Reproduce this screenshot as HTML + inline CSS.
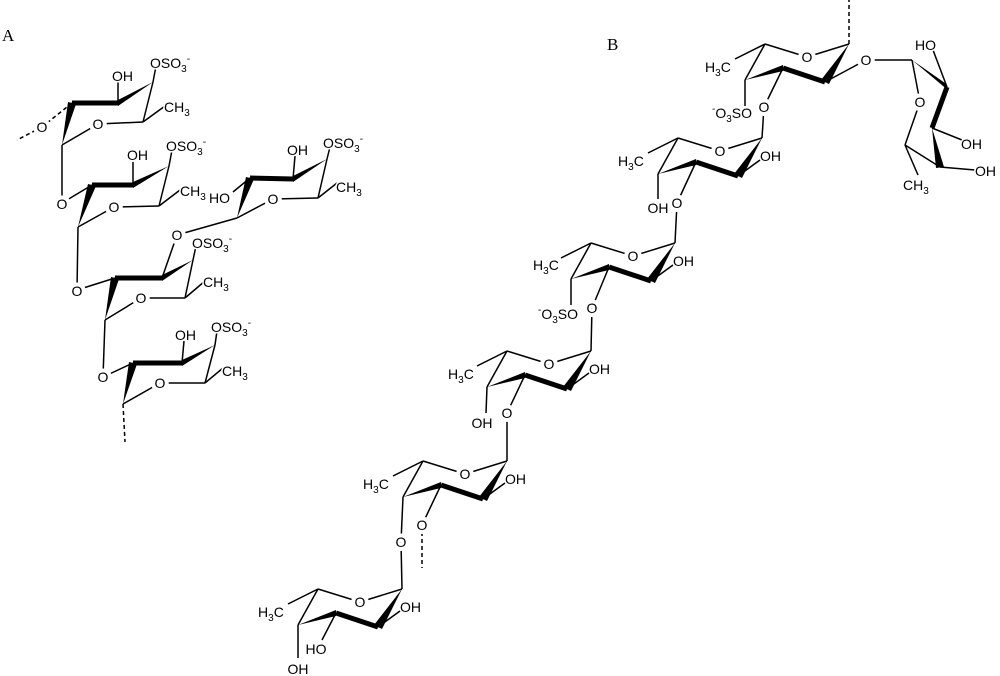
<!DOCTYPE html>
<html><head><meta charset="utf-8"><style>
html,body{margin:0;padding:0;background:#fff;}
svg{display:block}
text{font-family:"Liberation Sans",Arial,sans-serif;font-size:14px;fill:#000;stroke:#fff;stroke-width:3px;paint-order:stroke;stroke-linejoin:round}
text.o{stroke-width:8px}
text tspan.s{font-size:10px}
.ser{font-family:"Liberation Serif",serif;font-size:17px;stroke:none}
line{stroke:#000;stroke-width:1.5}
.th{stroke-width:5}
.d{stroke-dasharray:4,3}
polygon{fill:#000}
</style></head><body>
<svg width="1000" height="676" viewBox="0 0 1000 676" xmlns="http://www.w3.org/2000/svg">
<text class="ser" x="2" y="41">A</text>
<text class="ser" x="607" y="50">B</text>

<!-- ===== Panel A ===== -->
<g>
<polygon points="62,145 68,102 76,104"/>
<line class="th" x1="72" y1="103" x2="118" y2="103"/>
<polygon points="118,100 118,106 153,82"/>
<line x1="153" y1="82" x2="143" y2="122"/>
<line x1="143" y1="122" x2="98" y2="124"/>
<line x1="98" y1="124" x2="62" y2="145"/>
<line x1="118" y1="103" x2="118" y2="80"/>
<line x1="153" y1="82" x2="156" y2="66"/>
<line x1="143" y1="122" x2="165" y2="106"/>
<line class="d" x1="72" y1="103" x2="42" y2="127"/>
<line class="d" x1="42" y1="127" x2="17" y2="140"/>
<line x1="62" y1="145" x2="62" y2="203"/>
<line x1="62" y1="203" x2="92" y2="185"/>
<text class="o" x="98" y="129" text-anchor="middle">O</text>
<text class="o" x="42" y="132" text-anchor="middle">O</text>
<text x="112" y="81">OH</text>
<text x="150" y="68">OSO<tspan class="s" dy="4">3</tspan><tspan class="s" dy="-10">-</tspan></text>
<text x="164" y="112">CH<tspan class="s" dy="4">3</tspan></text>
<text class="o" x="62" y="209" text-anchor="middle">O</text>
</g>
<g>
<polygon points="78,227 88,184 96,186"/>
<line class="th" x1="92" y1="185" x2="133" y2="185"/>
<polygon points="133,182 133,188 169,166"/>
<line x1="169" y1="166" x2="159" y2="206"/>
<line x1="159" y1="206" x2="114" y2="207"/>
<line x1="114" y1="207" x2="78" y2="227"/>
<line x1="133" y1="185" x2="133" y2="162"/>
<line x1="169" y1="166" x2="172" y2="150"/>
<line x1="159" y1="206" x2="180" y2="190"/>
<line x1="78" y1="227" x2="77" y2="290"/>
<line x1="77" y1="290" x2="115" y2="278"/>
<text class="o" x="114" y="212" text-anchor="middle">O</text>
<text x="127" y="160">OH</text>
<text x="166" y="151">OSO<tspan class="s" dy="4">3</tspan><tspan class="s" dy="-10">-</tspan></text>
<text x="180" y="196">CH<tspan class="s" dy="4">3</tspan></text>
<text class="o" x="77" y="296" text-anchor="middle">O</text>
</g>
<g>
<polygon points="105,320 111,277 119,279"/>
<line class="th" x1="115" y1="278" x2="162" y2="278"/>
<polygon points="162,275 162,281 193,260"/>
<line x1="193" y1="260" x2="185" y2="298"/>
<line x1="185" y1="298" x2="141" y2="298"/>
<line x1="141" y1="298" x2="105" y2="320"/>
<line x1="162" y1="278" x2="177" y2="235"/>
<line x1="177" y1="235" x2="237" y2="218"/>
<line x1="193" y1="260" x2="196" y2="246"/>
<line x1="185" y1="298" x2="205" y2="281"/>
<line x1="105" y1="320" x2="103" y2="377"/>
<line x1="103" y1="377" x2="133" y2="363"/>
<text class="o" x="141" y="303" text-anchor="middle">O</text>
<text class="o" x="177" y="240" text-anchor="middle">O</text>
<text x="192" y="248">OSO<tspan class="s" dy="4">3</tspan><tspan class="s" dy="-10">-</tspan></text>
<text x="203" y="287">CH<tspan class="s" dy="4">3</tspan></text>
<text class="o" x="103" y="382" text-anchor="middle">O</text>
</g>
<g>
<polygon points="123,404 129,362 137,364"/>
<line class="th" x1="133" y1="363" x2="182" y2="363"/>
<polygon points="182,360 182,366 215,345"/>
<line x1="215" y1="345" x2="205" y2="383"/>
<line x1="205" y1="383" x2="160" y2="383"/>
<line x1="160" y1="383" x2="123" y2="404"/>
<line x1="182" y1="363" x2="184" y2="341"/>
<line x1="215" y1="345" x2="217" y2="331"/>
<line x1="205" y1="383" x2="223" y2="368"/>
<line class="d" x1="123" y1="404" x2="125" y2="442"/>
<text class="o" x="160" y="388" text-anchor="middle">O</text>
<text x="175" y="340">OH</text>
<text x="211" y="332">OSO<tspan class="s" dy="4">3</tspan><tspan class="s" dy="-10">-</tspan></text>
<text x="222" y="376">CH<tspan class="s" dy="4">3</tspan></text>
</g>
<g>
<polygon points="237,218 246,177 254,179"/>
<line class="th" x1="250" y1="178" x2="293" y2="179"/>
<polygon points="293,176 293,182 327,159"/>
<line x1="327" y1="159" x2="318" y2="198"/>
<line x1="318" y1="198" x2="273" y2="199"/>
<line x1="273" y1="199" x2="237" y2="218"/>
<line x1="250" y1="178" x2="233" y2="192"/>
<line x1="293" y1="179" x2="295" y2="156"/>
<line x1="327" y1="159" x2="330" y2="147"/>
<line x1="318" y1="198" x2="337" y2="183"/>
<text class="o" x="273" y="204" text-anchor="middle">O</text>
<text x="209" y="203">HO</text>
<text x="287" y="155">OH</text>
<text x="323" y="148">OSO<tspan class="s" dy="4">3</tspan><tspan class="s" dy="-10">-</tspan></text>
<text x="336" y="192">CH<tspan class="s" dy="4">3</tspan></text>
</g>

<!-- ===== Panel B ===== -->
<g>
<line x1="765" y1="44" x2="807" y2="57"/>
<line x1="807" y1="57" x2="849" y2="44"/>
<polygon points="849,44 821,80 829,84"/>
<line class="th" x1="825" y1="82" x2="783" y2="68"/>
<polygon points="745,80 783,65 783,71"/>
<line x1="745" y1="80" x2="765" y2="44"/>
<line x1="765" y1="44" x2="735" y2="59"/>
<line x1="745" y1="80" x2="745" y2="106"/>
<line x1="783" y1="68" x2="764" y2="107"/>
<line x1="764" y1="107" x2="762" y2="138"/>
<line x1="825" y1="82" x2="866" y2="60"/>
<line x1="866" y1="60" x2="912" y2="60"/>
<line class="d" x1="849" y1="44" x2="849" y2="0"/>
<text class="o" x="807" y="62" text-anchor="middle">O</text>
<text class="o" x="866" y="65" text-anchor="middle">O</text>
<text class="o" x="764" y="112" text-anchor="middle">O</text>
<text x="705" y="72">H<tspan class="s" dy="4">3</tspan><tspan dy="-4">C</tspan></text>
<text x="752" y="118" text-anchor="end"><tspan class="s" dy="-6">-</tspan><tspan dy="6">O</tspan><tspan class="s" dy="4">3</tspan><tspan dy="-4">SO</tspan></text>
</g>
<g>
<line x1="678" y1="138" x2="720" y2="151"/>
<line x1="720" y1="151" x2="762" y2="138"/>
<polygon points="762,138 734,174 742,178"/>
<line class="th" x1="738" y1="176" x2="696" y2="162"/>
<polygon points="658,174 696,159 696,165"/>
<line x1="658" y1="174" x2="678" y2="138"/>
<line x1="678" y1="138" x2="648" y2="153"/>
<line x1="658" y1="174" x2="658" y2="199"/>
<line x1="738" y1="176" x2="760" y2="160"/>
<line x1="696" y1="162" x2="677" y2="203"/>
<line x1="677" y1="203" x2="675" y2="243"/>
<text class="o" x="720" y="156" text-anchor="middle">O</text>
<text class="o" x="677" y="208" text-anchor="middle">O</text>
<text x="760" y="161">OH</text>
<text x="658" y="213" text-anchor="middle">OH</text>
<text x="618" y="166">H<tspan class="s" dy="4">3</tspan><tspan dy="-4">C</tspan></text>
</g>
<g>
<line x1="591" y1="243" x2="633" y2="256"/>
<line x1="633" y1="256" x2="675" y2="243"/>
<polygon points="675,243 647,279 655,283"/>
<line class="th" x1="651" y1="281" x2="609" y2="267"/>
<polygon points="571,279 609,264 609,270"/>
<line x1="571" y1="279" x2="591" y2="243"/>
<line x1="591" y1="243" x2="561" y2="258"/>
<line x1="571" y1="279" x2="571" y2="305"/>
<line x1="651" y1="281" x2="673" y2="265"/>
<line x1="609" y1="267" x2="592" y2="308"/>
<line x1="592" y1="308" x2="591" y2="351"/>
<text class="o" x="633" y="261" text-anchor="middle">O</text>
<text class="o" x="592" y="313" text-anchor="middle">O</text>
<text x="673" y="266">OH</text>
<text x="533" y="270">H<tspan class="s" dy="4">3</tspan><tspan dy="-4">C</tspan></text>
<text x="578" y="319" text-anchor="end"><tspan class="s" dy="-6">-</tspan><tspan dy="6">O</tspan><tspan class="s" dy="4">3</tspan><tspan dy="-4">SO</tspan></text>
</g>
<g>
<line x1="507" y1="351" x2="549" y2="364"/>
<line x1="549" y1="364" x2="591" y2="351"/>
<polygon points="591,351 563,387 571,391"/>
<line class="th" x1="567" y1="389" x2="525" y2="375"/>
<polygon points="487,387 525,372 525,378"/>
<line x1="487" y1="387" x2="507" y2="351"/>
<line x1="507" y1="351" x2="477" y2="366"/>
<line x1="487" y1="387" x2="486" y2="413"/>
<line x1="567" y1="389" x2="589" y2="373"/>
<line x1="525" y1="375" x2="507" y2="413"/>
<line x1="507" y1="413" x2="507" y2="461"/>
<text class="o" x="549" y="369" text-anchor="middle">O</text>
<text class="o" x="507" y="418" text-anchor="middle">O</text>
<text x="589" y="374">OH</text>
<text x="482" y="428" text-anchor="middle">OH</text>
<text x="448" y="379">H<tspan class="s" dy="4">3</tspan><tspan dy="-4">C</tspan></text>
</g>
<g>
<line x1="423" y1="461" x2="465" y2="474"/>
<line x1="465" y1="474" x2="507" y2="461"/>
<polygon points="507,461 479,497 487,501"/>
<line class="th" x1="483" y1="499" x2="441" y2="485"/>
<polygon points="403,497 441,482 441,488"/>
<line x1="403" y1="497" x2="423" y2="461"/>
<line x1="423" y1="461" x2="393" y2="476"/>
<line x1="403" y1="497" x2="401" y2="542"/>
<line x1="401" y1="542" x2="402" y2="589"/>
<line x1="483" y1="499" x2="505" y2="483"/>
<line x1="441" y1="485" x2="422" y2="525"/>
<line class="d" x1="422" y1="525" x2="422" y2="568"/>
<text class="o" x="465" y="479" text-anchor="middle">O</text>
<text class="o" x="422" y="530" text-anchor="middle">O</text>
<text class="o" x="401" y="547" text-anchor="middle">O</text>
<text x="505" y="484">OH</text>
<text x="363" y="489">H<tspan class="s" dy="4">3</tspan><tspan dy="-4">C</tspan></text>
</g>
<g>
<line x1="318" y1="589" x2="360" y2="602"/>
<line x1="360" y1="602" x2="402" y2="589"/>
<polygon points="402,589 374,625 382,629"/>
<line class="th" x1="378" y1="627" x2="336" y2="613"/>
<polygon points="298,625 336,610 336,616"/>
<line x1="298" y1="625" x2="318" y2="589"/>
<line x1="318" y1="589" x2="288" y2="604"/>
<line x1="298" y1="625" x2="298" y2="658"/>
<line x1="336" y1="613" x2="322" y2="640"/>
<line x1="378" y1="627" x2="400" y2="611"/>
<text class="o" x="360" y="607" text-anchor="middle">O</text>
<text x="400" y="612">OH</text>
<text x="258" y="617">H<tspan class="s" dy="4">3</tspan><tspan dy="-4">C</tspan></text>
<text x="316" y="654" text-anchor="middle">HO</text>
<text x="298" y="674" text-anchor="middle">OH</text>
</g>
<g>
<polygon points="912,60 945,83 949,91"/>
<line class="th" x1="947" y1="87" x2="932" y2="128"/>
<polygon points="932,128 936,168 944,167"/>
<line x1="940" y1="167" x2="905" y2="145"/>
<line x1="905" y1="145" x2="920" y2="102"/>
<line x1="920" y1="102" x2="912" y2="60"/>
<line x1="947" y1="87" x2="933" y2="50"/>
<line x1="932" y1="128" x2="962" y2="140"/>
<line x1="940" y1="167" x2="975" y2="170"/>
<line x1="905" y1="145" x2="918" y2="175"/>
<text class="o" x="920" y="107" text-anchor="middle">O</text>
<text x="915" y="50">HO</text>
<text x="961" y="149">OH</text>
<text x="975" y="176">OH</text>
<text x="903" y="190">CH<tspan class="s" dy="4">3</tspan></text>
</g>
</svg>
</body></html>
